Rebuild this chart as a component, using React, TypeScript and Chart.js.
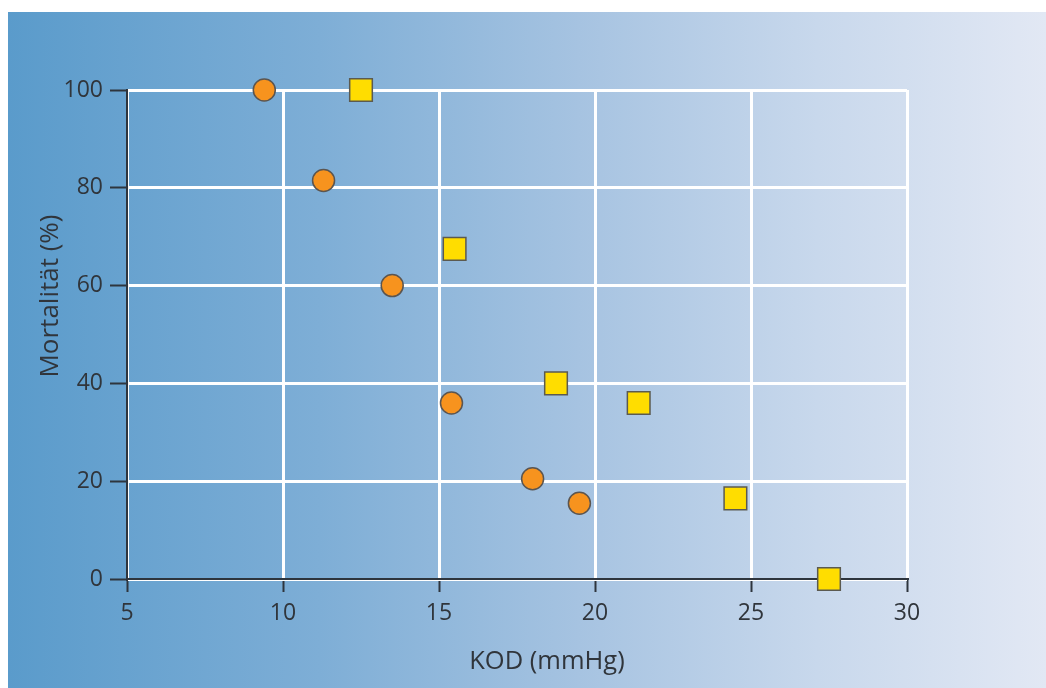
import React, { useEffect, useRef } from "react";
import { Chart, registerables } from "chart.js";

Chart.register(...registerables);

const xTicks = [5, 10, 15, 20, 25, 30];
const yTicks = [0, 20, 40, 60, 80, 100];

const circleX = [9.4, 11.3, 13.5, 15.4, 18.0, 19.5];
const circleY = [100, 81.5, 60, 36, 20.5, 15.5];

const squareX = [12.5, 15.5, 18.75, 21.4, 24.5, 27.5];
const squareY = [100, 67.5, 40, 36, 16.5, 0];

const xTitle = "KOD (mmHg)";
const yTitle = "Mortalität (%)";

const TEXT = "#30353b";
const AXIS = "#2e353d";
const FONT = "'Open Sans', 'Noto Sans', sans-serif";

const titlesPlugin = {
  id: "customTitles",
  afterDraw(chart: any) {
    const ctx = chart.ctx;
    ctx.save();
    ctx.fillStyle = TEXT;
    ctx.font = `25.5px ${FONT}`;
    ctx.textAlign = "center";
    ctx.textBaseline = "alphabetic";
    ctx.fillText(xTitle, 539, 657);
    ctx.translate(50, 284);
    ctx.rotate(-Math.PI / 2);
    ctx.font = `26px ${FONT}`;
    ctx.fillText(yTitle, 0, 0);
    ctx.restore();
  },
};

export default function App() {
  const ref = useRef<HTMLCanvasElement | null>(null);

  useEffect(() => {
    if (!ref.current) return;
    const chart = new Chart(ref.current, {
      type: "scatter",
      data: {
        datasets: [
          {
            label: "Kreise",
            data: circleX.map((x, i) => ({ x, y: circleY[i] })),
            pointStyle: "circle",
            pointRadius: 11,
            pointHoverRadius: 11,
            backgroundColor: "#f7931e",
            borderColor: "#5b5550",
            borderWidth: 1.5,
            clip: false,
          } as any,
          {
            label: "Quadrate",
            data: squareX.map((x, i) => ({ x, y: squareY[i] })),
            pointStyle: "rect",
            pointRadius: 16,
            pointHoverRadius: 16,
            backgroundColor: "#ffdd00",
            borderColor: "#5b5a50",
            borderWidth: 1.5,
            clip: false,
          } as any,
        ],
      },
      options: {
        animation: false,
        responsive: false,
        maintainAspectRatio: false,
        layout: { padding: { top: 78, right: 139, left: 0, bottom: 0 } },
        plugins: {
          legend: { display: false },
          tooltip: { enabled: false },
          title: { display: false },
        },
        scales: {
          x: {
            type: "linear",
            min: 5,
            max: 30,
            afterFit: (s: any) => {
              s.height = 109;
            },
            afterBuildTicks: (s: any) => {
              s.ticks = xTicks.map((v) => ({ value: v }));
            },
            grid: {
              color: "#ffffff",
              lineWidth: 3,
              tickColor: AXIS,
              tickWidth: 2,
              tickLength: 13,
            },
            border: { display: true, color: AXIS, width: 2 },
            ticks: {
              color: TEXT,
              font: { family: FONT, size: 23 },
              padding: 8,
              maxRotation: 0,
            },
          },
          y: {
            type: "linear",
            min: 0,
            max: 100,
            afterFit: (s: any) => {
              s.width = 119;
            },
            afterBuildTicks: (s: any) => {
              s.ticks = yTicks.map((v) => ({ value: v }));
            },
            grid: {
              color: "#ffffff",
              lineWidth: 3,
              tickColor: AXIS,
              tickWidth: 2,
              tickLength: 17,
            },
            border: { display: true, color: AXIS, width: 2 },
            ticks: {
              color: TEXT,
              font: { family: FONT, size: 23 },
              padding: 7,
            },
          },
        },
      },
      plugins: [titlesPlugin],
    } as any);
    return () => chart.destroy();
  }, []);

  return (
    <div
      style={{
        position: "fixed",
        left: 8,
        top: 12,
        width: 1038,
        height: 676,
        background:
          "linear-gradient(to right, #5a9bcb 0%, #7eaed6 30%, #a6c3e1 55%, #c8d8ec 78%, #e2e8f4 100%)",
      }}
    >
      <canvas ref={ref} width={1038} height={676} style={{ display: "block", width: 1038, height: 676 }} />
    </div>
  );
}
